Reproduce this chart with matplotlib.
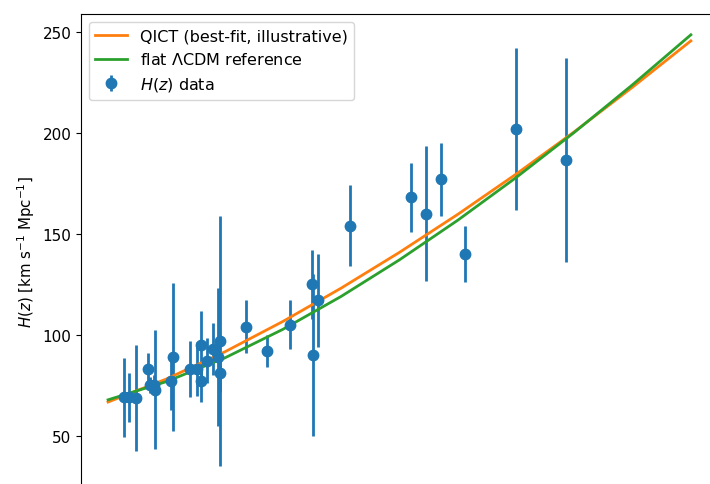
import matplotlib
matplotlib.use("Agg")
import matplotlib.pyplot as plt

# cosmic chronometer H(z) data
z_data = [0.07, 0.09, 0.12, 0.17, 0.179, 0.199, 0.2, 0.27, 0.28, 0.352,
          0.3802, 0.4, 0.4004, 0.4247, 0.4497, 0.47, 0.4783, 0.48, 0.593, 0.68,
          0.781, 0.875, 0.88, 0.9, 1.037, 1.3, 1.363, 1.43, 1.53, 1.75, 1.965]
h_data = [69, 69, 68.6, 83, 75, 75, 72.9, 77, 88.8, 83,
          83, 95, 77, 87.1, 92.8, 89, 80.9, 97, 104, 92,
          105, 125, 90, 117, 154, 168, 160, 177, 140, 202, 186.5]
h_err = [19.6, 12, 26.2, 8, 4, 5, 29.6, 14, 36.6, 14,
         13.5, 17, 10.2, 11.2, 12.9, 34, 9, 62, 13, 8,
         12, 17, 40, 23, 20, 17, 33.6, 18, 14, 40, 50.4]

# model curves
z_model = [0.0, 0.25, 0.5, 0.75, 1.0, 1.25, 1.5, 1.75, 2.0, 2.25, 2.5]
h_qict = [66.7, 78.1, 91.5, 106.6, 123.1, 140.8, 159.6, 179.5, 200.5, 222.6, 245.5]
h_lcdm = [67.8, 76.8, 88.5, 102.7, 119.0, 137.1, 156.7, 177.8, 200.2, 223.8, 248.5]

fig = plt.figure(figsize=(7.1, 4.85), dpi=100)
# the figure is a crop: the x axis lies just below the bottom edge
ax = fig.add_axes([0.1141, -0.0072, 0.90, 0.9763])

ax.errorbar(z_data, h_data, yerr=h_err, fmt="o", color="C0", markersize=7.5,
            elinewidth=2, label=r"$H(z)$ data")
ax.plot(z_model, h_qict, color="C1", lw=2, label="QICT (best-fit, illustrative)")
ax.plot(z_model, h_lcdm, color="C2", lw=2, label=r"flat $\Lambda$CDM reference")

ax.set_xlim(-0.116, 2.625)
ax.set_ylim(24.4, 258.8)
ax.set_yticks([50, 100, 150, 200, 250])
ax.tick_params(axis="x", bottom=False, labelbottom=False)
ax.set_ylabel(r"$H(z)$ [km s$^{-1}$ Mpc$^{-1}$]", fontsize=10.8)
ax.tick_params(axis="y", labelsize=11)
ax.legend(loc="upper left", fontsize=11.5)

fig.savefig("out.png", dpi=100)
